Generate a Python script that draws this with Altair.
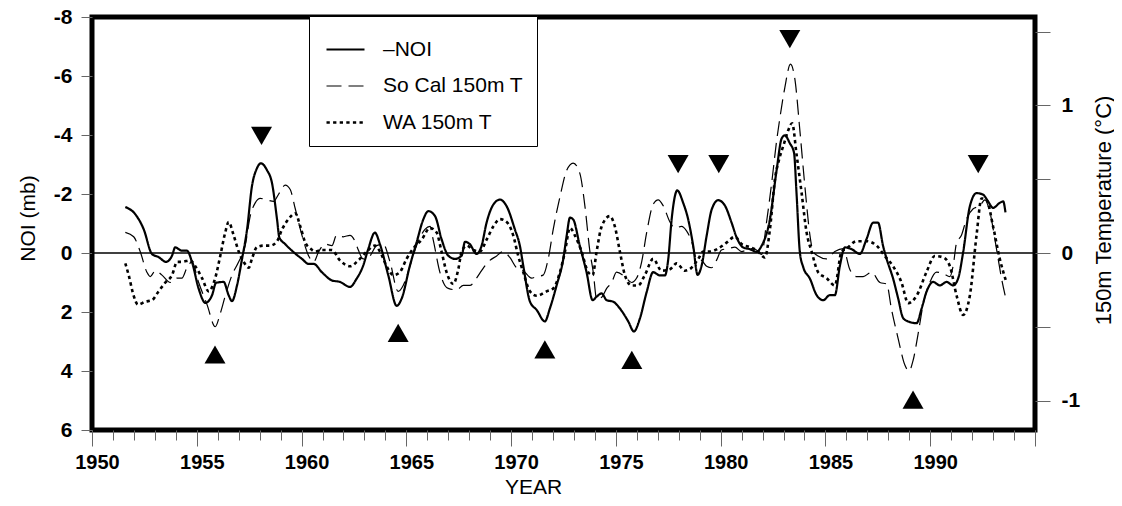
import altair as alt
import pandas as pd

FONT = "Liberation Sans"
NARROW = "Liberation Sans Narrow, Liberation Sans"

SERIES = ["\u2013NOI", "So Cal 150m T", "WA 150m T"]
WIDTHS = [2.2, 1.2, 2.6]

NOI_YEAR = [1951.59, 1952.07, 1952.47, 1952.86, 1953.18, 1953.53, 1953.82, 1953.97, 1954.29, 1954.53,
            1954.77, 1955.09, 1955.41, 1955.73, 1955.92, 1956.28, 1956.52, 1956.68, 1956.92, 1957.16,
            1957.40, 1957.63, 1957.87, 1958.06, 1958.35, 1958.59, 1958.83, 1958.94, 1959.22, 1959.54,
            1960.02, 1960.34, 1960.58, 1960.97, 1961.45, 1961.83, 1962.31, 1962.63, 1962.94, 1963.18,
            1963.50, 1963.74, 1964.14, 1964.54, 1964.78, 1965.17, 1965.49, 1965.81, 1966.05, 1966.37,
            1966.68, 1967.00, 1967.32, 1967.64, 1967.80, 1968.03, 1968.35, 1968.59, 1968.83, 1969.15,
            1969.47, 1969.79, 1970.18, 1970.42, 1970.58, 1970.90, 1971.22, 1971.61, 1971.85, 1972.17,
            1972.49, 1972.65, 1972.81, 1972.96, 1973.28, 1973.60, 1973.89, 1974.08, 1974.32, 1974.56,
            1974.87, 1975.19, 1975.59, 1975.86, 1976.15, 1976.47, 1976.78, 1977.10, 1977.34, 1977.50,
            1977.66, 1977.93, 1978.21, 1978.45, 1978.69, 1978.90, 1979.09, 1979.33, 1979.57, 1979.88,
            1980.20, 1980.52, 1980.76, 1981.07, 1981.39, 1981.71, 1981.95, 1982.35, 1982.67, 1982.91,
            1983.06, 1983.30, 1983.50, 1983.62, 1983.78, 1983.94, 1984.26, 1984.58, 1984.89, 1985.21,
            1985.45, 1985.69, 1985.93, 1986.25, 1986.64, 1986.96, 1987.28, 1987.51, 1987.75, 1987.92,
            1988.23, 1988.47, 1988.71, 1988.95, 1989.35, 1989.59, 1989.82, 1990.14, 1990.46, 1990.78,
            1991.09, 1991.33, 1991.57, 1991.89, 1992.21, 1992.52, 1992.76, 1993.00, 1993.32, 1993.48,
            1993.59]
NOI_MB = [-1.56, -1.31, -0.80, 0.03, 0.14, 0.30, 0.09, -0.19, -0.08, -0.08,
          0.30, 1.21, 1.69, 1.43, 1.01, 0.98, 1.43, 1.63, 1.10, 0.20,
          -0.80, -2.25, -2.87, -3.04, -2.81, -2.37, -1.14, -0.53, -0.30, -0.08,
          0.20, 0.37, 0.37, 0.65, 0.93, 0.98, 1.15, 0.87, 0.43, -0.13,
          -0.69, -0.30, 0.76, 1.79, 1.54, 0.43, -0.36, -1.14, -1.42, -1.25,
          -0.47, 0.09, 0.20, 0.09, -0.38, -0.30, 0.03, -0.24, -1.03, -1.64,
          -1.81, -1.58, -0.80, -0.24, 0.43, 1.65, 1.93, 2.32, 1.88, 1.10,
          0.20, -0.58, -1.20, -1.14, -0.24, 0.65, 1.60, 1.48, 1.37, 1.60,
          1.65, 1.88, 2.32, 2.66, 2.21, 1.32, 0.65, 0.76, 0.76, 0.20,
          -1.14, -2.12, -1.70, -1.14, -0.24, 0.74, 0.43, -0.58, -1.47, -1.79,
          -1.61, -1.03, -0.53, -0.19, -0.13, -0.04, -0.24, -1.14, -2.81, -3.88,
          -3.99, -3.72, -3.40, -2.03, -0.02, 0.48, 0.87, 1.43, 1.60, 1.43,
          1.43, 0.43, -0.19, -0.13, 0.03, -0.47, -1.03, -1.03, -0.24, 0.20,
          0.87, 1.54, 2.21, 2.32, 2.38, 1.88, 1.32, 0.98, 1.10, 0.98,
          1.10, 0.87, -0.02, -1.58, -2.03, -1.98, -1.75, -1.53, -1.70, -1.75,
          -1.38]

SOCAL_YEAR = [1951.59, 1951.99, 1952.30, 1952.62, 1952.78, 1953.02, 1953.34, 1953.74, 1954.06, 1954.29,
              1954.53, 1954.77, 1955.09, 1955.49, 1955.88, 1956.12, 1956.36, 1956.68, 1957.00, 1957.31,
              1957.55, 1957.79, 1958.03, 1958.35, 1958.67, 1958.91, 1959.22, 1959.46, 1959.70, 1960.02,
              1960.34, 1960.58, 1960.82, 1961.13, 1961.45, 1961.67, 1961.99, 1962.31, 1962.55, 1962.71,
              1962.94, 1963.26, 1963.58, 1963.90, 1964.22, 1964.61, 1964.85, 1965.17, 1965.49, 1965.89,
              1966.13, 1966.28, 1966.60, 1966.84, 1967.00, 1967.40, 1967.72, 1968.03, 1968.35, 1968.59,
              1968.91, 1969.31, 1969.62, 1969.94, 1970.26, 1970.58, 1970.98, 1971.22, 1971.53, 1971.77,
              1972.01, 1972.33, 1972.65, 1972.96, 1973.28, 1973.52, 1973.76, 1973.92, 1974.08, 1974.32,
              1974.56, 1974.80, 1975.03, 1975.43, 1975.75, 1975.99, 1976.23, 1976.47, 1976.78, 1977.02,
              1977.26, 1977.58, 1977.82, 1978.13, 1978.37, 1978.61, 1978.85, 1979.09, 1979.33, 1979.57,
              1979.80, 1980.04, 1980.36, 1980.68, 1981.00, 1981.24, 1981.47, 1981.71, 1981.95, 1982.19,
              1982.43, 1982.67, 1982.82, 1983.06, 1983.33, 1983.54, 1983.78, 1984.02, 1984.26, 1984.41,
              1984.65, 1985.05, 1985.45, 1985.85, 1986.16, 1986.48, 1986.80, 1987.20, 1987.60, 1987.92,
              1988.15, 1988.47, 1988.79, 1988.99, 1989.18, 1989.42, 1989.66, 1989.98, 1990.30, 1990.62,
              1990.94, 1991.09, 1991.26, 1991.49, 1991.73, 1992.05, 1992.37, 1992.61, 1992.84, 1993.16,
              1993.40, 1993.61]
SOCAL_T = [0.14, 0.11, 0.01, -0.13, -0.16, -0.12, -0.15, -0.20, -0.17, -0.17,
           -0.10, -0.06, -0.20, -0.35, -0.50, -0.41, -0.29, -0.15, -0.06, 0.05,
           0.25, 0.34, 0.37, 0.36, 0.35, 0.40, 0.46, 0.43, 0.30, 0.12,
           -0.02, -0.06, 0.01, 0.06, 0.05, 0.12, 0.11, 0.12, 0.08, 0.02,
           -0.04, -0.02, 0.05, 0.06, -0.06, -0.26, -0.22, -0.09, 0.05, 0.16,
           0.18, 0.09, -0.13, -0.22, -0.24, -0.25, -0.22, -0.22, -0.17, -0.12,
           -0.06, -0.02, 0.01, -0.03, -0.10, -0.12, -0.17, -0.16, -0.15, -0.04,
           0.16, 0.38, 0.56, 0.61, 0.54, 0.32, 0.01, -0.13, -0.31, -0.30,
           -0.24, -0.20, -0.13, -0.16, -0.20, -0.17, -0.06, 0.14, 0.33, 0.36,
           0.32, 0.21, 0.17, 0.18, 0.15, 0.08, -0.04, -0.05, -0.09, -0.10,
           -0.05, 0.02, 0.03, 0.04, 0.01, 0.02, 0.03, 0.02, -0.01, 0.21,
           0.47, 0.76, 0.91, 1.12, 1.28, 1.18, 0.83, 0.45, 0.12, 0.01,
           -0.02, -0.04, 0.01, 0.03, -0.11, -0.16, -0.16, -0.13, -0.20, -0.21,
           -0.38, -0.58, -0.76, -0.80, -0.73, -0.55, -0.35, -0.20, -0.13, -0.14,
           -0.16, -0.09, 0.07, 0.12, 0.23, 0.30, 0.32, 0.36, 0.28, 0.03,
           -0.17, -0.31]

WA_YEAR = [1951.59, 1951.75, 1951.99, 1952.19, 1952.54, 1952.86, 1953.18, 1953.50, 1953.82, 1954.06,
           1954.29, 1954.69, 1954.93, 1955.25, 1955.57, 1955.88, 1956.12, 1956.36, 1956.52, 1956.76,
           1957.00, 1957.24, 1957.48, 1957.63, 1957.87, 1958.19, 1958.51, 1958.83, 1959.07, 1959.38,
           1959.70, 1959.94, 1960.18, 1960.42, 1960.65, 1960.97, 1961.45, 1961.83, 1962.31, 1962.71,
           1963.11, 1963.50, 1963.74, 1964.06, 1964.38, 1964.69, 1965.01, 1965.33, 1965.73, 1966.13,
           1966.44, 1966.68, 1966.92, 1967.24, 1967.48, 1967.64, 1967.88, 1968.19, 1968.51, 1968.83,
           1969.15, 1969.47, 1969.79, 1970.10, 1970.34, 1970.58, 1970.90, 1971.22, 1971.69, 1972.01,
           1972.33, 1972.57, 1972.81, 1973.04, 1973.36, 1973.68, 1973.89, 1974.08, 1974.32, 1974.71,
           1974.95, 1975.19, 1975.43, 1975.75, 1976.06, 1976.38, 1976.78, 1977.18, 1977.58, 1977.90,
           1978.29, 1978.61, 1978.93, 1979.17, 1979.49, 1979.88, 1980.28, 1980.68, 1981.00, 1981.39,
           1981.71, 1982.11, 1982.35, 1982.59, 1982.82, 1983.02, 1983.22, 1983.41, 1983.62, 1983.86,
           1984.10, 1984.34, 1984.65, 1985.05, 1985.45, 1985.77, 1986.01, 1986.48, 1986.96, 1987.44,
           1987.83, 1988.23, 1988.63, 1988.95, 1989.35, 1989.82, 1990.22, 1990.62, 1990.94, 1991.26,
           1991.57, 1991.89, 1992.21, 1992.45, 1992.69, 1993.00, 1993.32, 1993.64]
WA_T = [-0.07, -0.15, -0.29, -0.35, -0.33, -0.32, -0.26, -0.20, -0.15, -0.06,
        -0.06, -0.05, -0.09, -0.17, -0.26, -0.17, -0.02, 0.14, 0.21, 0.12,
        0.01, -0.06, -0.10, -0.04, 0.04, 0.05, 0.05, 0.08, 0.16, 0.23,
        0.27, 0.18, 0.07, 0.03, 0.01, 0.02, 0.02, -0.05, -0.09, -0.05,
        0.01, 0.05, 0.01, -0.09, -0.15, -0.13, -0.04, 0.03, 0.09, 0.17,
        0.14, 0.01, -0.13, -0.21, -0.11, 0.01, 0.05, 0.02, 0.01, 0.09,
        0.18, 0.23, 0.21, 0.12, -0.02, -0.13, -0.26, -0.29, -0.26, -0.24,
        -0.13, 0.01, 0.17, 0.12, 0.01, -0.13, -0.15, 0.01, 0.18, 0.25,
        0.18, 0.01, -0.15, -0.22, -0.22, -0.15, -0.04, -0.12, -0.11, -0.07,
        -0.12, -0.10, -0.04, 0.01, 0.01, 0.03, 0.07, 0.11, 0.06, 0.04,
        0.02, -0.03, 0.16, 0.50, 0.65, 0.74, 0.83, 0.88, 0.67, 0.41,
        0.14, 0.01, -0.13, -0.17, -0.22, 0.01, 0.03, 0.08, 0.08, 0.05,
        -0.02, -0.09, -0.20, -0.34, -0.29, -0.13, -0.02, -0.03, -0.09, -0.29,
        -0.42, -0.29, 0.12, 0.37, 0.36, 0.18, -0.04, -0.20]

MARK_YEAR = [1958.09, 1977.97, 1979.91, 1983.30, 1992.29, 1955.87, 1964.61, 1971.61, 1975.76, 1989.18]
MARK_NOI = [-3.97, -3.01, -3.01, -7.25, -3.01, 3.44, 2.71, 3.27, 3.62, 4.97]
MARK_DIR = ["down", "down", "down", "down", "down", "up", "up", "up", "up", "up"]

noi_df = pd.DataFrame({"year": NOI_YEAR, "noi": NOI_MB, "series": SERIES[0]})
socal_df = pd.DataFrame({"year": SOCAL_YEAR, "temp": SOCAL_T, "series": SERIES[1]})
wa_df = pd.DataFrame({"year": WA_YEAR, "temp": WA_T, "series": SERIES[2]})
mark_df = pd.DataFrame({"year": MARK_YEAR, "noi": MARK_NOI, "dir": MARK_DIR})
zero_df = pd.DataFrame({"zero": [0.0]})

x_scale = alt.Scale(domain=[1950, 1995], nice=False, zero=False)
noi_scale = alt.Scale(domain=[-8, 6], reverse=True, nice=False, zero=False)
temp_scale = alt.Scale(domain=[-1.2, 1.6], nice=False, zero=False)

minor_axis = alt.Axis(orient="bottom", values=list(range(1950, 1996)), tickSize=10,
                      tickColor="#666666", tickWidth=1, labels=False, domain=False, grid=False)
major_axis = alt.Axis(orient="bottom", values=list(range(1950, 1996, 5)), tickSize=16,
                      tickColor="#666666", tickWidth=1, domain=False, grid=False,
                      labelFont=NARROW, labelFontSize=20, labelFontWeight="bold", labelColor="black",
                      labelPadding=6, labelOffset=5, labelFlush=False, labelOverlap=False,
                      labelExpr="datum.value == 1995 ? '' : toString(datum.value)",
                      titleFont=FONT, titleFontSize=21, titleFontWeight="normal", titleColor="black",
                      titleX=441, titleY=63, titleAlign="center", titleBaseline="alphabetic")
left_axis = alt.Axis(orient="left", values=[-8, -6, -4, -2, 0, 2, 4, 6], tickSize=11,
                     tickColor="#666666", tickWidth=1, domain=False, grid=False,
                     labelFont=FONT, labelFontSize=21, labelFontWeight="bold", labelColor="black",
                     labelPadding=9, labelOverlap=False, labelExpr="toString(datum.value)",
                     titleFont=FONT, titleFontSize=21, titleFontWeight="normal", titleColor="black",
                     titleAngle=270, titleX=-64, titleY=201, titleAlign="center", titleBaseline="middle")
right_axis = alt.Axis(orient="right", values=[-1, -0.5, 0, 0.5, 1, 1.5], tickSize=15,
                      tickColor="#666666", tickWidth=1, domain=False, grid=False,
                      labelFont=FONT, labelFontSize=21, labelFontWeight="bold", labelColor="black",
                      labelPadding=11, labelOverlap=False,
                      labelExpr="datum.value % 1 == 0 ? toString(datum.value) : ''",
                      titleFont=FONT, titleFontSize=22, titleFontWeight="normal", titleColor="black",
                      titleAngle=270, titleX=68, titleY=193, titleAlign="center", titleBaseline="middle")

legend = alt.Legend(
    title=None, orient="none", legendX=217, legendY=-1, direction="vertical",
    symbolType="stroke", symbolSize=1444, symbolStrokeColor="black", symbolOffset=3,
    labelFont=FONT, labelFontSize=21, labelColor="black", labelOffset=17, labelLimit=320,
    rowPadding=6, padding=13, strokeColor="black", fillColor="white",
)
dash = alt.StrokeDash("series:N", scale=alt.Scale(domain=SERIES, range=[[1, 0], [15, 7], [3.3, 3.3]]), legend=legend)
width_enc = alt.StrokeWidth("series:N", scale=alt.Scale(type="ordinal", domain=SERIES, range=WIDTHS), legend=legend)

noi_line = alt.Chart(noi_df).mark_line(color="black", interpolate="monotone").encode(
    x=alt.X("year:Q", scale=x_scale, axis=minor_axis, title=None),
    y=alt.Y("noi:Q", scale=noi_scale, axis=left_axis, title="NOI (mb)"),
    strokeDash=dash, strokeWidth=width_enc,
)
zero_rule = alt.Chart(zero_df).mark_rule(color="black", strokeWidth=1.5).encode(
    y=alt.Y("zero:Q", scale=noi_scale, axis=left_axis, title="NOI (mb)"),
)
triangles = alt.Chart(mark_df).mark_point(filled=True, color="black", opacity=1, size=441).encode(
    x=alt.X("year:Q", scale=x_scale, axis=minor_axis, title=None),
    y=alt.Y("noi:Q", scale=noi_scale, axis=left_axis, title="NOI (mb)"),
    shape=alt.Shape("dir:N", scale=alt.Scale(domain=["down", "up"], range=["triangle-down", "triangle-up"]), legend=None),
)
left = alt.layer(zero_rule, noi_line, triangles)

socal_line = alt.Chart(socal_df).mark_line(color="black", interpolate="monotone").encode(
    x=alt.X("year:Q", scale=x_scale, axis=major_axis, title="YEAR"),
    y=alt.Y("temp:Q", scale=temp_scale, axis=right_axis, title="150m Temperature (\u00b0C)"),
    strokeDash=dash, strokeWidth=width_enc,
)
wa_line = alt.Chart(wa_df).mark_line(color="black", interpolate="monotone").encode(
    x=alt.X("year:Q", scale=x_scale, axis=major_axis, title="YEAR"),
    y=alt.Y("temp:Q", scale=temp_scale, axis=right_axis, title="150m Temperature (\u00b0C)"),
    strokeDash=dash, strokeWidth=width_enc,
)
right = alt.layer(socal_line, wa_line)

chart = alt.layer(left, right).resolve_scale(y="independent").resolve_axis(x="independent").properties(
    width=943, height=413,
    autosize=alt.AutoSizeParams(type="none"),
    padding={"left": 84, "top": 9, "right": 79, "bottom": 68},
).configure(font=FONT).configure_view(stroke="black", strokeWidth=5)

chart.save("out.html", embed_options={"renderer": "svg", "actions": False})
